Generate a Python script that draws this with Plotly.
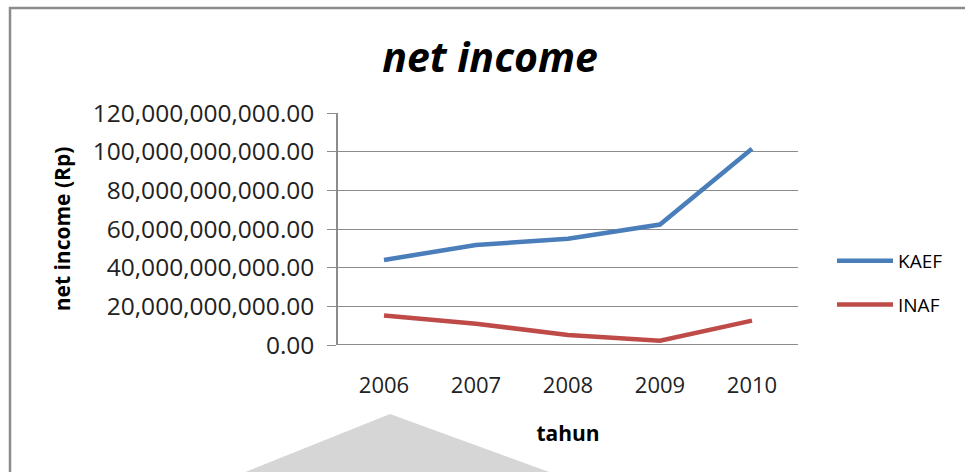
import plotly.graph_objects as go

years = ["2006", "2007", "2008", "2009", "2010"]
kaef = [44.0e9, 51.7e9, 55.0e9, 62.3e9, 101.5e9]
inaf = [15.2e9, 11.0e9, 5.2e9, 2.2e9, 12.6e9]
y_ticks = [0, 20e9, 40e9, 60e9, 80e9, 100e9, 120e9]

W, H = 965, 472
L, R, T, B = 338, 798, 113, 345  # plot area in pixels


def px(x):
    return (x - L) / (R - L)


def py(y):
    return (B - y) / (B - T)


FONT = "Open Sans"

fig = go.Figure()
fig.add_trace(go.Scatter(x=years, y=kaef, name="KAEF", mode="lines",
                         line=dict(color="#4A7EBB", width=4.5), legendgroup="a"))
fig.add_trace(go.Scatter(x=years, y=inaf, name="INAF", mode="lines",
                         line=dict(color="#BE4B48", width=4.5), legendgroup="b"))

# decorative watermark and chart border
fig.add_shape(type="path", xref="paper", yref="paper", layer="below",
              path=f"M {px(243)} {py(473)} L {px(390)} {py(414)} L {px(552)} {py(473)} Z",
              fillcolor="#d6d6d6", line=dict(width=0))
fig.add_shape(type="rect", xref="paper", yref="paper", layer="below",
              x0=px(10), y0=py(490), x1=px(990), y1=py(8),
              line=dict(color="#8c8c8c", width=2.5), fillcolor="rgba(0,0,0,0)")

fig.update_layout(
    width=W, height=H,
    margin=dict(l=L, r=W - R, t=T, b=H - B),
    paper_bgcolor="white", plot_bgcolor="white",
    title=dict(text="<b><i>net income</i></b>", x=px(490), xref="paper", xanchor="center",
               y=1 - 58 / H, yanchor="middle",
               font=dict(family=FONT, size=41, color="black")),
    font=dict(family=FONT, color="#222"),
    showlegend=True,
    legend=dict(x=px(832), y=py(242), xanchor="left", yanchor="top",
                font=dict(family=FONT, size=19, color="black"),
                tracegroupgap=16, bgcolor="rgba(0,0,0,0)", itemwidth=56),
    xaxis=dict(showgrid=False, showline=False, ticks="",
               range=[-0.5, 4.5],
               tickfont=dict(family=FONT, size=22, color="#222"),
               ticklabelstandoff=25,
               title=dict(text="<b>tahun</b>", font=dict(family=FONT, size=21, color="black"),
                          standoff=28)),
    yaxis=dict(range=[0, 120e9], tickvals=y_ticks, tickformat=",.2f",
               showgrid=True, gridcolor="#8c8c8c", gridwidth=1.3,
               showline=True, linecolor="#8c8c8c", linewidth=1.5,
               ticks="outside", ticklen=9, tickcolor="#8c8c8c", tickwidth=1.3,
               ticklabelstandoff=8,
               tickfont=dict(family=FONT, size=24.5, color="#222"),
               zeroline=False,
               title=dict(text="<b>net income (Rp)</b>", font=dict(family=FONT, size=21, color="black"),
                          standoff=16)),
)
# x axis baseline at zero
fig.add_shape(type="line", xref="paper", yref="y", x0=0, x1=1, y0=0, y1=0,
              line=dict(color="#8c8c8c", width=2))

fig.write_html("out.html")
